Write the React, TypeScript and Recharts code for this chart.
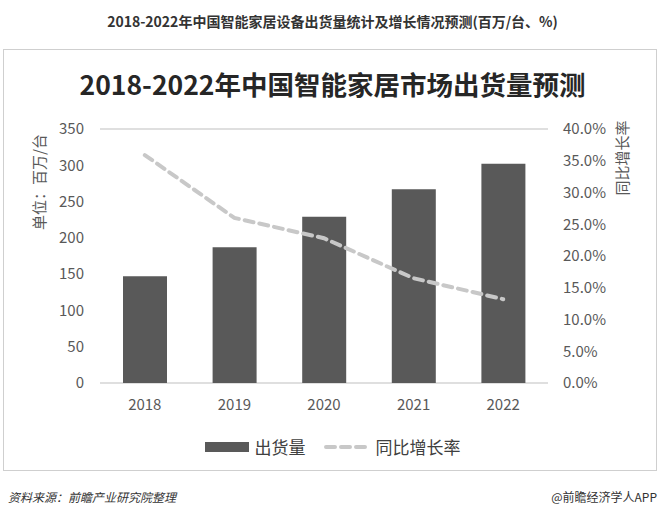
import { ComposedChart, Bar, Line, XAxis, YAxis, CartesianGrid } from 'recharts';

const years = ['2018', '2019', '2020', '2021', '2022'];
const shipments = [147, 187, 229, 267, 302];
const growthRates = [35.9, 26.0, 22.8, 16.5, 13.2];
const leftTicks = [0, 50, 100, 150, 200, 250, 300, 350];
const rightTicks = [0, 5, 10, 15, 20, 25, 30, 35, 40];

const data = years.map((year, i) => ({
    year,
    shipments: shipments[i],
    growth: growthRates[i],
}));

const FONT = "'Noto Sans CJK SC', 'Noto Sans', sans-serif";
const tickStyle = { fill: '#595959', fontSize: 15, fontFamily: FONT };

export default function App() {
    return (
        <div style={{ position: 'absolute', left: 0, top: 0, width: 665, height: 515, background: '#fff', fontFamily: FONT }}>
            <div
                style={{
                    position: 'absolute',
                    top: 11,
                    left: 0,
                    width: 665,
                    textAlign: 'center',
                    fontSize: 14,
                    fontWeight: 700,
                    color: '#333',
                }}
            >
                2018-2022年中国智能家居设备出货量统计及增长情况预测(百万/台、%)
            </div>
            <div
                style={{
                    position: 'absolute',
                    left: 3,
                    top: 49,
                    width: 654,
                    height: 422,
                    border: '1.5px solid #cfcfcf',
                    boxSizing: 'border-box',
                }}
            />
            <div
                style={{
                    position: 'absolute',
                    top: 64,
                    left: 0,
                    width: 665,
                    textAlign: 'center',
                    fontSize: 26.5,
                    fontWeight: 700,
                    color: '#262626',
                    lineHeight: '40px',
                }}
            >
                2018-2022年中国智能家居市场出货量预测
            </div>

            <div style={{ position: 'absolute', left: 0, top: 0 }}>
                <ComposedChart
                    width={665}
                    height={515}
                    data={data}
                    margin={{ top: 129, right: 47, bottom: 102, left: 40 }}
                >
                    <CartesianGrid vertical={false} stroke="#d4d4d4" strokeWidth={1.5} />
                    <XAxis
                        dataKey="year"
                        axisLine={false}
                        tickLine={false}
                        tick={tickStyle}
                        tickMargin={10}
                        height={30}
                    />
                    <YAxis
                        yAxisId="left"
                        domain={[0, 350]}
                        ticks={leftTicks}
                        axisLine={false}
                        tickLine={false}
                        tick={tickStyle}
                        tickMargin={10}
                        width={60}
                        interval={0}
                    />
                    <YAxis
                        yAxisId="right"
                        orientation="right"
                        domain={[0, 40]}
                        ticks={rightTicks}
                        axisLine={false}
                        tickLine={false}
                        tick={{ ...tickStyle, textAnchor: 'start' }}
                        tickMargin={9}
                        width={70}
                        interval={0}
                        tickFormatter={(v: number) => `${v.toFixed(1)}%`}
                    />
                    <Bar yAxisId="left" dataKey="shipments" fill="#595959" barSize={44} isAnimationActive={false} />
                    <Line
                        yAxisId="right"
                        dataKey="growth"
                        type="linear"
                        stroke="#c8c8c8"
                        strokeWidth={4}
                        strokeDasharray="9 6"
                        strokeLinecap="round"
                        dot={false}
                        activeDot={false}
                        isAnimationActive={false}
                    />
                </ComposedChart>
            </div>

            <div
                style={{
                    position: 'absolute',
                    left: 38,
                    top: 182,
                    transform: 'translate(-50%, -50%) rotate(-90deg)',
                    fontSize: 15,
                    color: '#595959',
                    whiteSpace: 'nowrap',
                }}
            >
                单位：百万/台
            </div>
            <div
                style={{
                    position: 'absolute',
                    left: 621,
                    top: 158,
                    transform: 'translate(-50%, -50%) rotate(-90deg)',
                    fontSize: 15,
                    color: '#595959',
                    whiteSpace: 'nowrap',
                }}
            >
                同比增长率
            </div>

            <div
                style={{
                    position: 'absolute',
                    top: 434,
                    left: 0,
                    width: 665,
                    display: 'flex',
                    justifyContent: 'center',
                    alignItems: 'center',
                    fontSize: 17,
                    color: '#404040',
                }}
            >
                <span style={{ display: 'inline-block', width: 44, height: 10, background: '#595959', marginRight: 6 }} />
                <span style={{ marginRight: 18 }}>出货量</span>
                <svg width={46} height={10} style={{ marginRight: 6 }}>
                    <line x1={2} y1={5} x2={44} y2={5} stroke="#c8c8c8" strokeWidth={4} strokeDasharray="9 6" strokeLinecap="round" />
                </svg>
                <span>同比增长率</span>
            </div>

            <div style={{ position: 'absolute', left: 8, top: 488, fontSize: 12, fontStyle: 'italic', color: '#333' }}>
                资料来源：前瞻产业研究院整理
            </div>
            <div style={{ position: 'absolute', right: 8, top: 488, fontSize: 12, color: '#333' }}>
                @前瞻经济学人APP
            </div>
        </div>
    );
}
